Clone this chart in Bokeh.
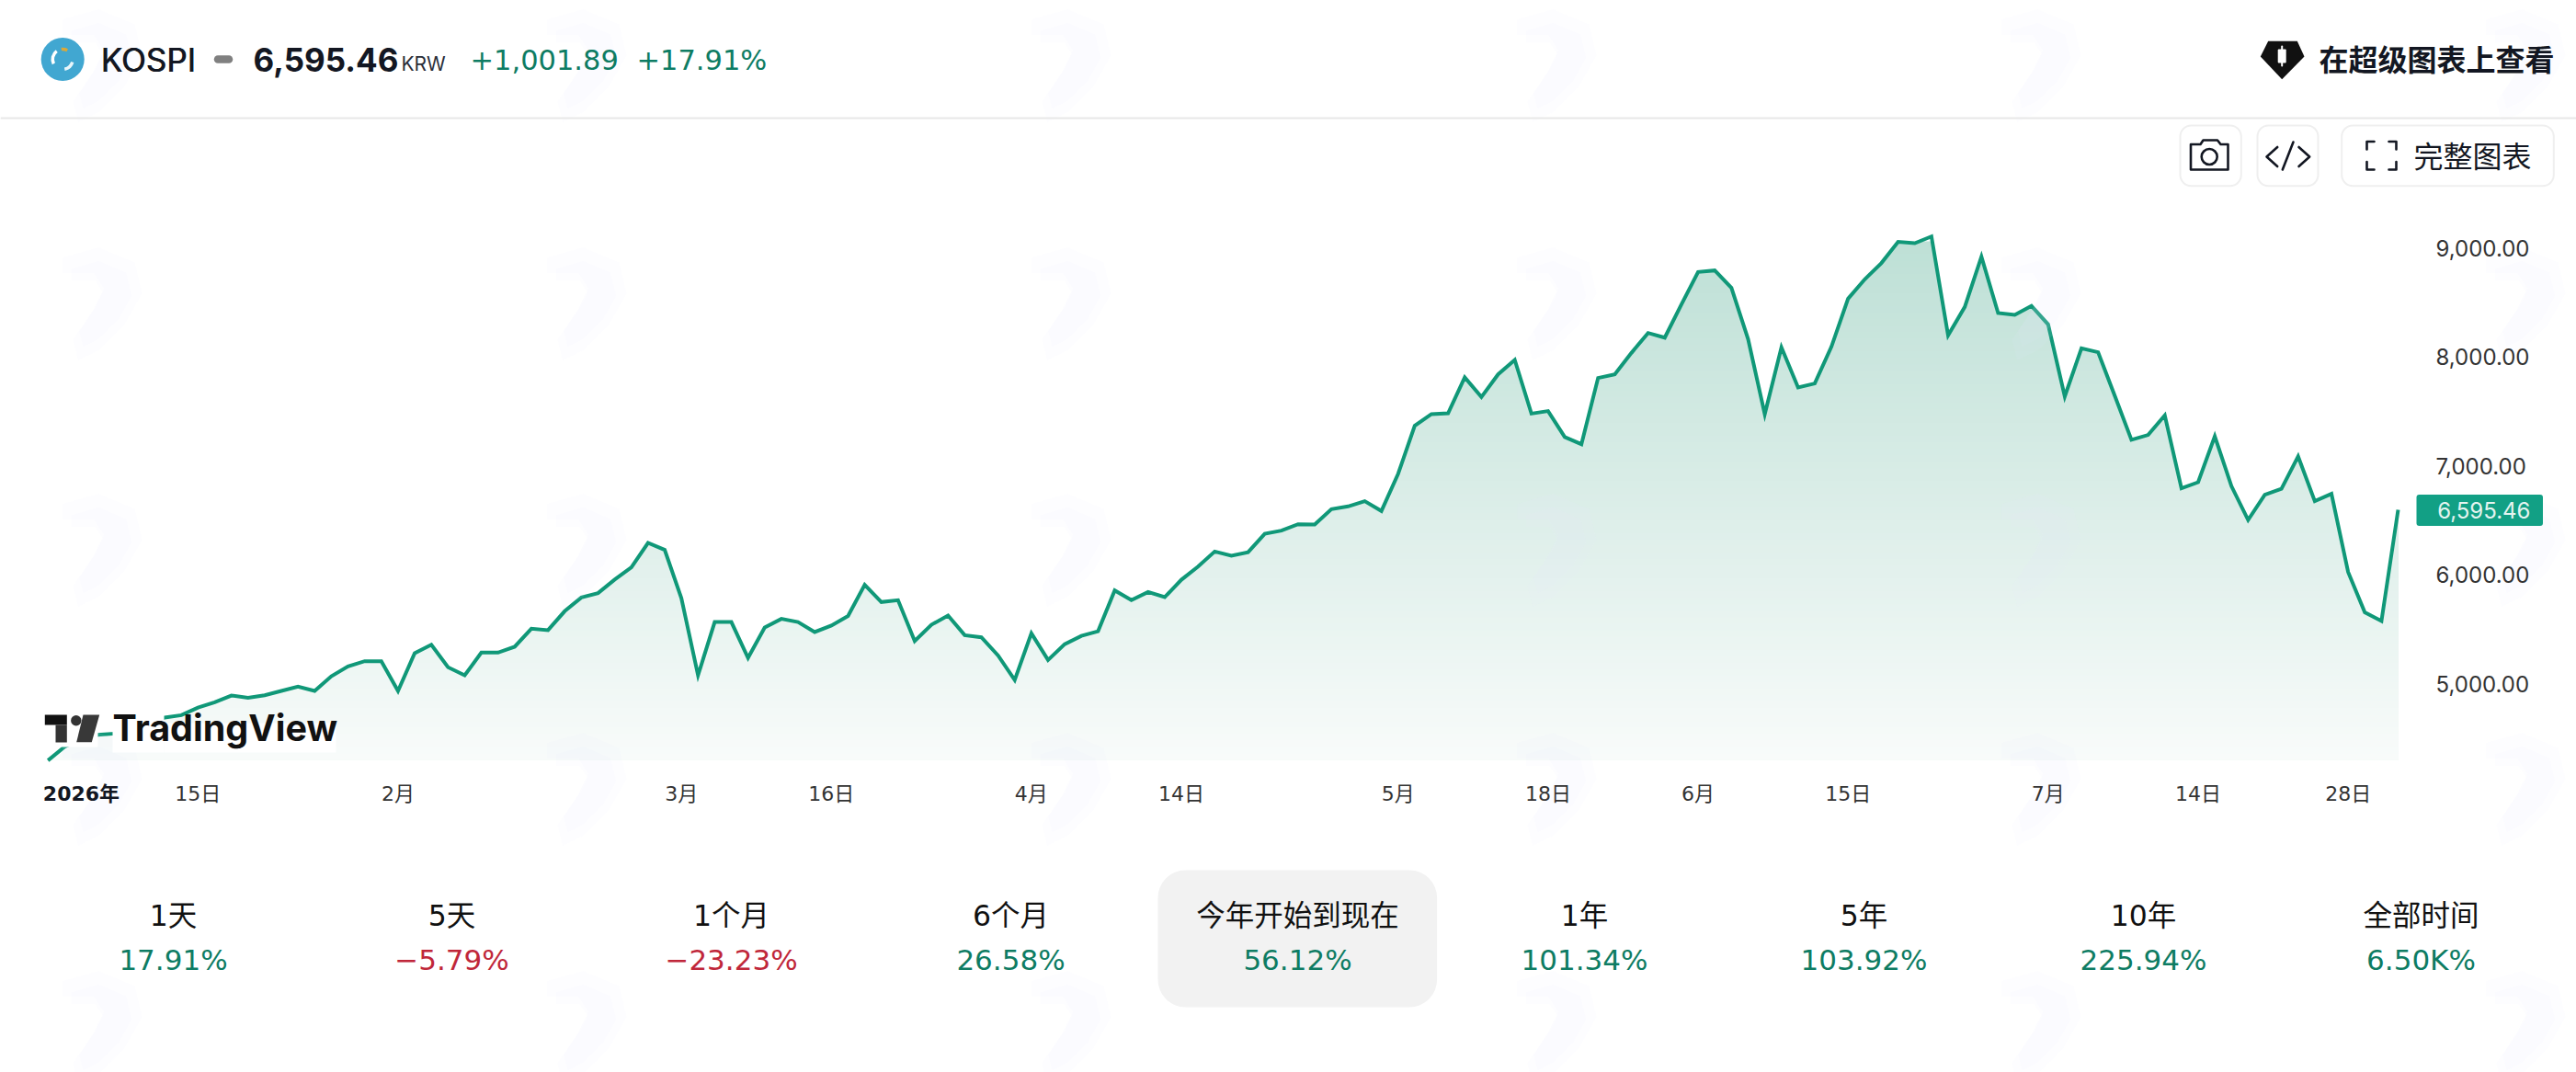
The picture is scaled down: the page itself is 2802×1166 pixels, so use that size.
from bokeh.plotting import figure
from bokeh.models import Range1d, LinearAxis, FixedTicker
from bokeh.core.properties import value
from bokeh.embed import file_html
from bokeh.resources import INLINE

# ---------- data ----------
kospi = [4294,4420,4491,4530,4541,4603,4645,4688,4710,4780,4828,4890,4870,4893,4932,4972,4932,5067,5157,5205,
         5205,4932,5278,5357,5150,5076,5284,5284,5338,5504,5490,5664,5790,5830,5954,6066,6291,6227,5785,5076,
         5565,5565,5236,5515,5594,5565,5473,5532,5620,5907,5748,5765,5390,5540,5624,5444,5424,5258,5033,5461,
         5216,5362,5438,5480,5855,5765,5841,5793,5953,6074,6212,6173,6206,6375,6404,6463,6460,6601,6626,6674,
         6584,6924,7366,7473,7481,7810,7630,7838,7971,7478,7501,7262,7197,7805,7838,8035,8218,8175,8480,8778,
         8792,8632,8162,7473,8086,7718,7754,8092,8533,8711,8860,9054,9042,9104,8196,8457,8919,8401,8384,8466,
         8297,7635,8078,8041,7642,7237,7282,7462,6792,6848,7270,6812,6502,6733,6787,7085,6674,6742,6024,5653,
         5574,6595.46]
x_ticks = [9,21,38,47,59,68,81,90,99,108,120,129,138]
x_labels = ["15日","2月","3月","16日","4月","14日","5月","18日","6月","15日","7月","14日","28日"]
year_tick = 2
year_label = "2026年"
y_ticks = [5000,6000,7000,8000,9000]
period_labels = ["1天","5天","1个月","6个月","今年开始到现在","1年","5年","10年","全部时间"]
period_values = ["17.91%","−5.79%","−23.23%","26.58%","56.12%","101.34%","103.92%","225.94%","6.50K%"]
symbol = "KOSPI"
price = "6,595.46"
currency = "KRW"
change = "+1,001.89"
change_pct = "+17.91%"
last_label = "6,595.46"

# ---------- layout ----------
W, H = 2802, 1166
X0, DX = 51.7, 18.13          # page x of first point, spacing
Y9, K = 269.0, 0.1185         # page y of 9000, px per unit
def i_of(px): return (px - X0) / DX
def v_of(py): return 9000 - (py - Y9) / K

GREEN_LINE = "#109878"; GREEN = "#0e7c63"; RED = "#c0273a"; INK = "#131722"
CJK = "Noto Sans CJK SC"; LAT = "Inter"; NUM = "DejaVu Sans"; MIX = "DejaVu Sans, Noto Sans CJK SC"

p = figure(width=W, height=H, output_backend="svg", toolbar_location=None,
           x_range=Range1d(i_of(0), i_of(W)), y_range=Range1d(v_of(H), v_of(0)),
           x_axis_location=None, y_axis_location=None, min_border=0,
           outline_line_color=None, background_fill_color="white", border_fill_color="white")
p.grid.visible = False
p.extra_x_ranges["px"] = Range1d(0, W)
p.extra_y_ranges["px"] = Range1d(H, 0)
PX = dict(x_range_name="px", y_range_name="px")

# ---------- gradient area, painted as nested areas, top colour first ----------
xs = list(range(len(kospi)))
BASE = v_of(826)
TOPV, N = v_of(262), 80
C_TOP, C_BOT = (190, 224, 214), (248, 251, 250)
def clipped(level):
    ox, oy = [], []
    for k in range(len(kospi)):
        a = kospi[k]
        ox.append(xs[k]); oy.append(min(a, level))
        if k + 1 < len(kospi):
            b = kospi[k + 1]
            if (a - level) * (b - level) < 0:
                ox.append(xs[k] + (level - a) / (b - a)); oy.append(level)
    return ox, oy
for n in range(N):
    t = n / (N - 1)
    level = TOPV + (BASE - TOPV) * n / N
    c = tuple(int(round(C_TOP[j] + (C_BOT[j] - C_TOP[j]) * t)) for j in range(3))
    ox, oy = clipped(level)
    p.varea(x=ox, y1=[BASE] * len(ox), y2=oy, fill_color="#%02x%02x%02x" % c)

p.line(xs, kospi, line_color=GREEN_LINE, line_width=4, line_join="miter")

# ---------- watermark (two soft layers) ----------
wm_x = [-35,0,35,42,25,0,-20,-25,-5,5,-5,-35]
wm_y = [-45,-55,-40,-10,20,45,55,35,5,-15,-30,-30]
for cx in [107, 634, 1161, 1689, 2216, 2743]:
    for cy in [71, 330, 598, 858, 1117]:
        for s in (1.12, 0.85):
            p.patch([cx + s * a for a in wm_x], [cy + s * b for b in wm_y], fill_color="#e6edfb", fill_alpha=0.09,
                    line_color=None, **PX)

# ---------- helpers ----------
def txt(x, y, t, size, color=INK, font=LAT, align="left", bold=False):
    p.text([x], [y], text=[t], text_font=value(font), text_font_size=value(f"{size}px"), text_color=color,
           text_align=align, text_baseline="middle", text_font_style="bold" if bold else "normal", **PX)
def box(l, r, t, b, radius, fill=None, line=None, lw=2):
    p.quad(left=[l], right=[r], top=[t], bottom=[b], fill_color=fill, line_color=line, line_width=lw,
           border_radius=radius, **PX)
def poly(x, y, color=INK, w=2.6, cap="round"):
    p.line(x, y, line_color=color, line_width=w, line_cap=cap, line_join="round", **PX)

# ---------- axes ----------
yax = LinearAxis(fixed_location=i_of(2634), ticker=FixedTicker(ticks=y_ticks))
yax.formatter.use_scientific = False
yax.major_label_overrides = {v: f"{v:,.2f}" for v in y_ticks}
yax.axis_line_color = None; yax.major_tick_line_color = None; yax.minor_tick_line_color = None
yax.major_label_standoff = 9
yax.major_label_text_font = LAT; yax.major_label_text_font_size = "24px"; yax.major_label_text_color = "#333333"
p.add_layout(yax, "right")

xax = LinearAxis(fixed_location=v_of(841), ticker=FixedTicker(ticks=x_ticks))
xax.major_label_overrides = dict(zip(x_ticks, x_labels))
xax.axis_line_color = None; xax.major_tick_line_color = None; xax.minor_tick_line_color = None
xax.major_label_standoff = 3
xax.major_label_text_font = MIX; xax.major_label_text_font_size = "22px"
xax.major_label_text_color = "#333333"
p.add_layout(xax, "below")

yrax = LinearAxis(fixed_location=v_of(841), ticker=FixedTicker(ticks=[year_tick]))
yrax.major_label_overrides = {year_tick: year_label}
yrax.axis_line_color = None; yrax.major_tick_line_color = None; yrax.minor_tick_line_color = None
yrax.major_label_standoff = 3
yrax.major_label_text_font = MIX; yrax.major_label_text_font_size = "22px"
yrax.major_label_text_font_style = "bold"; yrax.major_label_text_color = INK
p.add_layout(yrax, "below")

# ---------- last price tag ----------
tag_y = Y9 + (9000 - kospi[-1]) * K
box(2628, 2765.5, tag_y - 16.5, tag_y + 17.5, 3, fill="#12a085")
txt(2752, tag_y + 1, last_label, 24, color="#e4f4f0", align="right")

# ---------- header ----------
p.circle([67.7], [64], radius=23.5, fill_color="#41a7d1", line_color=None, **PX)
p.arc([67.7], [64], radius=11, start_angle=2.2, end_angle=3.6, line_color="white", line_width=3.5, **PX)
p.arc([67.7], [64], radius=11, start_angle=4.9, end_angle=6.0, line_color="#e8f6fb", line_width=3.5, **PX)
p.arc([67.7], [64], radius=11, start_angle=1.1, end_angle=1.7, line_color="#d9a93a", line_width=3.5, **PX)
txt(109, 64.5, symbol, 35); txt(109.7, 64.5, symbol, 35)
poly([236.5, 248.5], [64, 64], color="#808080", w=8.5)
txt(275, 64.5, price, 35, bold=True)
txt(436, 69, currency, 21, color="#2a2e39")
txt(511, 64.5, change, 30.5, color=GREEN, font=NUM)
txt(692, 64.5, change_pct, 30.5, color=GREEN, font=NUM)

p.patch([2466.7, 2498.3, 2506, 2481.7, 2458.3], [44.3, 44.3, 61, 85.7, 61], fill_color="#111111", line_color=None, **PX)
poly([2481.7, 2481.7], [50, 71], color="white", w=2)
box(2477.2, 2486.2, 53, 68, 1, fill="white")
txt(2522, 62.5, "在超级图表上查看", 32, font=CJK, bold=True)
poly([0, W], [128, 128], color="#e8e8e8", w=2, cap="butt")

# ---------- buttons ----------
for l, r in [(2371, 2437.3), (2455, 2521), (2546.7, 2777.3)]:
    box(l, r, 136, 201.7, 12, fill="white", line="#efefef", lw=2)
poly([2382.5, 2393, 2396, 2411.5, 2415, 2423, 2423, 2382.5, 2382.5],
     [156.5, 156.5, 152, 152, 156.5, 156.5, 184, 184, 156.5])
p.circle([2402.7], [170], radius=8.5, fill_color=None, line_color=INK, line_width=2.6, **PX)
poly([2476.7, 2465, 2476.7], [159.5, 170, 180.5])
poly([2500, 2511.7, 2500], [159.5, 170, 180.5])
poly([2494, 2482.3], [154, 184])
poly([2574, 2574, 2582], [162, 153.5, 153.5]); poly([2598, 2606, 2606], [153.5, 153.5, 162])
poly([2574, 2574, 2582], [175.5, 184, 184]);   poly([2598, 2606, 2606], [184, 184, 175.5])
txt(2625, 167, "完整图表", 32, font=CJK)

# ---------- TradingView logo ----------
box(46, 106, 773, 812, 0, fill="white")
box(122, 178, 772, 818, 0, fill="white")
box(178, 365, 786, 818, 0, fill="white")
box(48.3, 72.3, 777, 788, 0, fill="#111111")
box(60, 72.3, 788, 807, 0, fill="#333333")
p.circle([82.3], [783.3], radius=5.7, fill_color="#333333", line_color=None, **PX)
p.patch([107.7, 90, 82.7, 99.3], [777, 777, 806.7, 806.7], fill_color="#383838", line_color=None, **PX)
txt(122, 791, "TradingView", 39.5, color="#111111", bold=True)

# ---------- period strip ----------
box(1259, 1562.6, 946, 1095, 30, fill="#f2f2f2")
centers = [188, 491, 795, 1099, 1411, 1723, 2027, 2331, 2633]
for cx, lab, val in zip(centers, period_labels, period_values):
    txt(cx, 995, lab, 31.5, font=MIX, align="center", color="#111111")
    txt(cx, 1043, val, 31, color=RED if val.startswith("−") else GREEN, align="center", font=NUM)

open("out.html", "w").write(file_html(p, INLINE))
